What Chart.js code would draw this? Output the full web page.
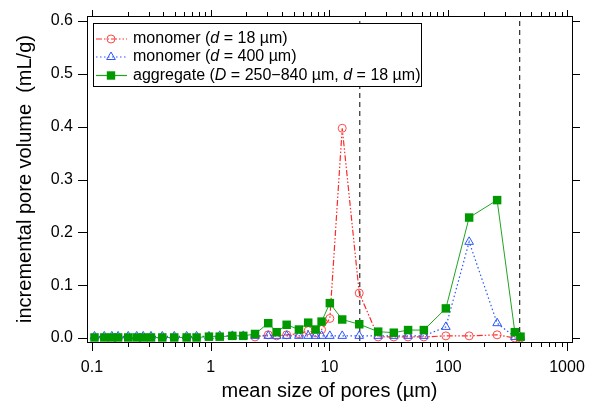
<!DOCTYPE html>
<html>
<head>
<meta charset="utf-8">
<script src="https://cdn.jsdelivr.net/npm/chart.js@4/dist/chart.umd.min.js"></script>
<style>
html,body{margin:0;padding:0;background:#fff;}
#wrap{width:596px;height:407px;position:relative;}
</style>
</head>
<body>
<div id="wrap"><canvas id="c" width="596" height="407"></canvas></div>
<script>
// ---- data ----
const poreSizes = [0.105,0.127,0.147,0.166,0.202,0.238,0.270,0.314,0.391,0.493,0.627,0.760,0.966,1.19,1.52,1.88,2.36,3.05,3.59,4.36,5.53,6.62,7.64,8.58,10.07,12.8,17.8,25.7,34.8,45.9,62.3,95.5,150,258,364,406];
const monomer18 = [null,null,null,null,null,null,null,null,null,null,null,null,null,null,null,null,0.002,0.006,0.004,0.006,0.008,0.014,0.010,0.016,0.037,0.397,0.085,0.002,0.002,0.002,0.002,0.004,0.004,0.006,0.0,0.0];
const monomer400 = [0.003,0.003,0.003,0.003,0.003,0.003,0.003,0.003,0.003,0.003,0.003,0.003,0.003,0.004,0.004,0.004,0.004,0.004,0.004,0.004,0.004,0.004,0.004,0.004,0.004,0.004,0.004,0.004,0.004,0.004,0.004,0.021,0.182,0.028,0.002,0.001];
const aggregate = [0.001,0.001,0.001,0.001,0.001,0.001,0.001,0.001,0.001,0.001,0.001,0.001,0.0025,0.0025,0.004,0.004,0.0076,0.028,0.011,0.025,0.016,0.029,0.016,0.031,0.066,0.035,0.026,0.012,0.010,0.015,0.015,0.056,0.228,0.261,0.011,0.0025];
const markerLines = [18, 400];
const xTickLabels = [0.1, 1, 10, 100, 1000];
const yTickLabels = [0.0, 0.1, 0.2, 0.3, 0.4, 0.5, 0.6];
const legendLabels = [
  [["monomer (",false],["d",true],[" = 18 µm)",false]],
  [["monomer (",false],["d",true],[" = 400 µm)",false]],
  [["aggregate (",false],["D",true],[" = 250−840 µm, ",false],["d",true],[" = 18 µm)",false]]
];

const FONT = "'Liberation Sans', Arial, sans-serif";
const RED = '#ff2a2a', BLUE = '#2a55ff', GREEN = '#009a00', GREENL = '#22a322';

function pts(arr){ return poreSizes.map((x,i)=>({x:x,y:arr[i]})); }

const datasets = [
  {label:'aggregate', data:pts(aggregate), borderColor:GREENL, backgroundColor:GREEN, pointBorderColor:GREEN,
   pointStyle:'rect', pointRadius:6, pointBorderWidth:0, borderWidth:1, order:1},
  {label:'monomer400', data:pts(monomer400), borderColor:BLUE, backgroundColor:'rgba(0,0,0,0)', pointBorderColor:BLUE,
   pointStyle:'triangle', pointRadius:5, pointBorderWidth:1, borderWidth:1.2, borderDash:[1.5,2.5], order:2},
  {label:'monomer18', data:pts(monomer18), borderColor:RED, backgroundColor:'rgba(0,0,0,0)', pointBorderColor:'#ff4a4a',
   pointStyle:'circle', pointRadius:4, pointBorderWidth:1, borderWidth:1.2, borderDash:[6,2,1.5,2,1.5,2], order:3}
];
markerLines.forEach(v=>{
  datasets.push({label:'ref'+v, data:[{x:v,y:0.6},{x:v,y:-0.01}], borderColor:'#000', borderWidth:1,
    borderDash:[5,4], pointRadius:0, order:5});
});

const minorTicks = [];
for (let d=0; d<xTickLabels.length-1; d++){
  for (let m=2; m<=9; m++) minorTicks.push(xTickLabels[d]*m);
}

const framePlugin = {
  id:'frame',
  afterDraw(chart){
    const ctx = chart.ctx, a = chart.chartArea, xs = chart.scales.x, ys = chart.scales.y;
    ctx.save();
    ctx.strokeStyle = '#000'; ctx.lineWidth = 1;
    ctx.strokeRect(Math.round(a.left)+0.5, Math.round(a.top)+0.5, Math.round(a.right-a.left), Math.round(a.bottom-a.top));
    ctx.beginPath();
    xTickLabels.forEach(v=>{
      const px = Math.round(xs.getPixelForValue(v))+0.5;
      ctx.moveTo(px, a.bottom); ctx.lineTo(px, a.bottom+9);
      ctx.moveTo(px, a.top); ctx.lineTo(px, a.top-6);
    });
    minorTicks.forEach(v=>{
      const px = Math.round(xs.getPixelForValue(v))+0.5;
      ctx.moveTo(px, a.bottom); ctx.lineTo(px, a.bottom+5);
      ctx.moveTo(px, a.top); ctx.lineTo(px, a.top-4);
    });
    yTickLabels.forEach(v=>{
      const py = Math.round(ys.getPixelForValue(v))+0.5;
      ctx.moveTo(a.left, py); ctx.lineTo(a.left-9, py);
      ctx.moveTo(a.right, py); ctx.lineTo(a.right+8, py);
    });
    ctx.stroke();

    // legend
    const bx=93.5, by=23.5, bw=328, bh=63;
    ctx.fillStyle='#fff'; ctx.fillRect(bx,by,bw,bh);
    ctx.strokeStyle='#000'; ctx.lineWidth=1; ctx.setLineDash([]);
    ctx.strokeRect(bx,by,bw,bh);
    const rows=[39,57,75.5];
    const styles=[
      {c:RED, mc:'#ff4a4a', dash:[6,2,1.5,2,1.5,2], m:'circle'},
      {c:BLUE, mc:BLUE, dash:[1.5,2.5], m:'triangle'},
      {c:GREENL, mc:GREEN, dash:[], m:'rect'}
    ];
    rows.forEach((ry,i)=>{
      const s=styles[i];
      ctx.save();
      ctx.strokeStyle=s.c; ctx.lineWidth=1.2; ctx.setLineDash(s.dash);
      ctx.beginPath(); ctx.moveTo(96,ry); ctx.lineTo(127,ry); ctx.stroke();
      ctx.setLineDash([]);
      const mx=111;
      if (s.m==='circle'){
        ctx.strokeStyle=s.mc; ctx.lineWidth=1; ctx.fillStyle='#fff';
        ctx.beginPath(); ctx.arc(mx,ry,4,0,Math.PI*2); ctx.stroke();
      } else if (s.m==='triangle'){
        ctx.strokeStyle=s.mc; ctx.lineWidth=1;
        const r=5;
        ctx.beginPath();
        ctx.moveTo(mx, ry-r); ctx.lineTo(mx+r*0.866, ry+r*0.5); ctx.lineTo(mx-r*0.866, ry+r*0.5); ctx.closePath(); ctx.stroke();
      } else {
        ctx.fillStyle=s.mc; ctx.fillRect(mx-4.2,ry-4.2,8.4,8.4);
      }
      ctx.restore();
      let tx=133;
      ctx.fillStyle='#000'; ctx.textBaseline='middle';
      legendLabels[i].forEach(seg=>{
        ctx.font=(seg[1]?'italic ':'')+'16px '+FONT;
        ctx.fillText(seg[0], tx, ry);
        tx += ctx.measureText(seg[0]).width;
      });
    });
    ctx.restore();
  }
};

new Chart(document.getElementById('c'), {
  type:'line',
  data:{datasets:datasets},
  options:{
    responsive:false, animation:false,
    layout:{padding:{top:16,right:24,left:0,bottom:0}},
    plugins:{legend:{display:false}, tooltip:{enabled:false}},
    elements:{line:{tension:0, fill:false}},
    scales:{
      x:{type:'logarithmic', min:0.0908, max:1102,
         afterBuildTicks(s){ s.ticks = xTickLabels.map(v=>({value:v})); },
         afterFit(s){ s.height = 65; s.paddingLeft = 0; s.paddingRight = 0; },
         grid:{display:true, drawOnChartArea:false, drawTicks:false},
         border:{display:false},
         ticks:{autoSkip:false, maxRotation:0, padding:16, color:'#000', font:{family:FONT,size:16},
                callback:(v)=>String(v)},
         title:{display:true, text:'mean size of pores (µm)', color:'#000', font:{family:FONT,size:20}, padding:{top:0,bottom:4}}
      },
      y:{type:'linear', min:-0.0076, max:0.6095,
         afterBuildTicks(s){ s.ticks = yTickLabels.map(v=>({value:v})); },
         afterFit(s){ s.width = 87; s.paddingTop = 0; s.paddingBottom = 0; },
         grid:{display:true, drawOnChartArea:false, drawTicks:false},
         border:{display:false},
         ticks:{padding:14, color:'#000', font:{family:FONT,size:16}, callback:(v)=>v.toFixed(1)},
         title:{display:true, text:'incremental pore volume  (mL/g)', color:'#000', font:{family:FONT,size:20}, padding:{top:13,bottom:0}}
      }
    }
  },
  plugins:[framePlugin]
});
</script>
</body>
</html>
